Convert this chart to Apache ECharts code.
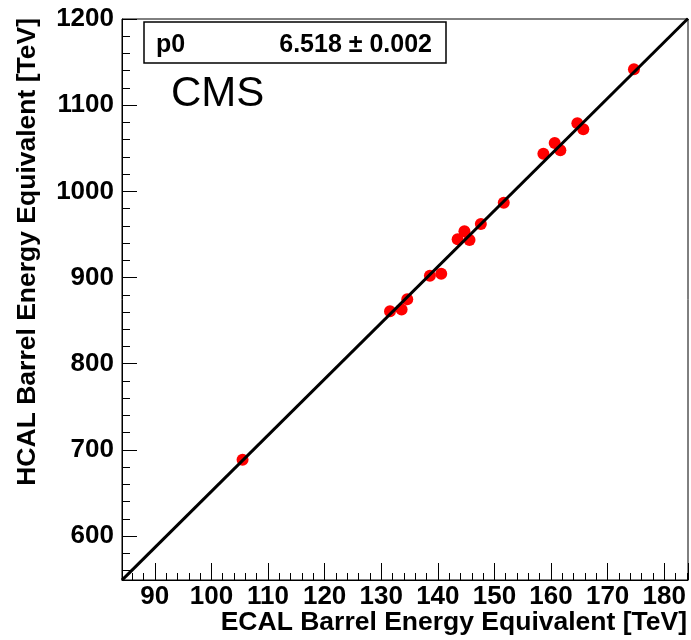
<!DOCTYPE html>
<html>
<head>
<meta charset="utf-8">
<script src="https://cdn.jsdelivr.net/npm/echarts@6/dist/echarts.min.js"></script>
<style>
  html, body { margin: 0; padding: 0; background: #fff; }
  #chart { width: 691px; height: 640px; }
</style>
</head>
<body>
<div id="chart"></div>
<script>
// measured points (ECAL vs HCAL barrel energy equivalent, TeV)
const ecal = [105.5, 131.55, 133.6, 134.6, 138.6, 140.6, 143.5, 144.7, 145.6, 147.6, 151.65, 158.65, 160.65, 161.65, 164.65, 165.7, 174.65]
const hcal = [688.5, 861, 863, 874.7, 902, 904.4, 944.3, 953.6, 943.5, 962, 986.8, 1043.7, 1056, 1047.6, 1079, 1072, 1141.6]
// fit: y = p0 * x
const fitP0 = 6.518
const fitP0Err = 0.002
const xRange = [84.2, 184.2]
const yRange = [549, 1200]

const font = 'Liberation Sans, Arial, sans-serif'
const points = ecal.map((x, i) => [x, hcal[i]])
const fitLine = xRange.map(x => [x, fitP0 * x])

const chart = echarts.init(document.getElementById('chart'))

const option = {
  animation: false,
  grid: {
    left: 122, right: 3, top: 19, bottom: 60,
    show: true,
    borderColor: '#000',
    borderWidth: 1,
    containLabel: false,
    outerBoundsMode: 'none'
  },
  xAxis: [
    {
      type: 'value',
      min: xRange[0], max: xRange[1],
      splitNumber: 10,
      position: 'bottom',
      axisLine: { lineStyle: { color: '#000', width: 1 } },
      axisTick: { inside: true, length: 17, lineStyle: { color: '#000', width: 1 } },
      axisLabel: {
        color: '#000', fontSize: 26, fontWeight: 'bold', fontFamily: font, margin: 4,
        formatter: v => (Math.abs(v % 10) < 1e-6 ? String(Math.round(v)) : '')
      },
      splitLine: { show: false }
    },
    {
      // minor ticks every 2
      type: 'value',
      min: xRange[0], max: xRange[1],
      splitNumber: 50,
      position: 'bottom',
      axisLine: { show: false },
      axisTick: { inside: true, length: 7, lineStyle: { color: '#000', width: 1 } },
      axisLabel: { show: false },
      splitLine: { show: false }
    }
  ],
  yAxis: [
    {
      type: 'value',
      min: yRange[0], max: yRange[1],
      splitNumber: 6,
      position: 'left',
      axisLine: { show: true, lineStyle: { color: '#000', width: 1 } },
      axisTick: { show: true, inside: true, length: 15, lineStyle: { color: '#000', width: 1 } },
      axisLabel: {
        color: '#000', fontSize: 26, fontWeight: 'bold', fontFamily: font, margin: 8,
        formatter: v => (Math.abs(v % 100) < 1e-6 ? String(Math.round(v)) : '')
      },
      splitLine: { show: false }
    },
    {
      // minor ticks every 20
      type: 'value',
      min: yRange[0], max: yRange[1],
      splitNumber: 32,
      position: 'left',
      axisLine: { show: false },
      axisTick: { show: true, inside: true, length: 8, lineStyle: { color: '#000', width: 1 } },
      axisLabel: { show: false },
      splitLine: { show: false }
    }
  ],
  series: [
    {
      type: 'scatter',
      xAxisIndex: 0, yAxisIndex: 0,
      data: points,
      symbol: 'circle',
      symbolSize: 12,
      itemStyle: { color: '#ff0000', opacity: 1 }
    },
    {
      type: 'line',
      xAxisIndex: 0, yAxisIndex: 0,
      data: fitLine,
      showSymbol: false,
      clip: true,
      lineStyle: { color: '#000', width: 3 }
    }
  ],
  graphic: [
    {
      type: 'text', x: 687, y: 623,
      style: { text: 'ECAL Barrel Energy Equivalent [TeV]', font: 'bold 26.5px ' + font, fill: '#000', align: 'right', verticalAlign: 'middle' }
    },
    {
      type: 'text', x: 28, y: 18, rotation: Math.PI / 2,
      style: { text: 'HCAL Barrel Energy Equivalent [TeV]', font: 'bold 26.5px ' + font, fill: '#000', align: 'right', verticalAlign: 'middle' }
    },
    {
      type: 'rect',
      shape: { x: 144, y: 22, width: 302, height: 41 },
      style: { fill: '#fff', stroke: '#000', lineWidth: 1.5 },
      z: 10
    },
    {
      type: 'text', x: 156, y: 45, z: 11,
      style: { text: 'p0', font: 'bold 25px ' + font, fill: '#000', align: 'left', verticalAlign: 'middle' }
    },
    {
      type: 'text', x: 432, y: 45, z: 11,
      style: { text: fitP0.toFixed(3) + ' \u00b1 ' + fitP0Err.toFixed(3), font: 'bold 25px ' + font, fill: '#000', align: 'right', verticalAlign: 'middle' }
    },
    {
      type: 'text', x: 171, y: 94, z: 11,
      style: { text: 'CMS', font: '42px ' + font, fill: '#000', align: 'left', verticalAlign: 'middle' }
    }
  ]
}

chart.setOption(option)
</script>
</body>
</html>
